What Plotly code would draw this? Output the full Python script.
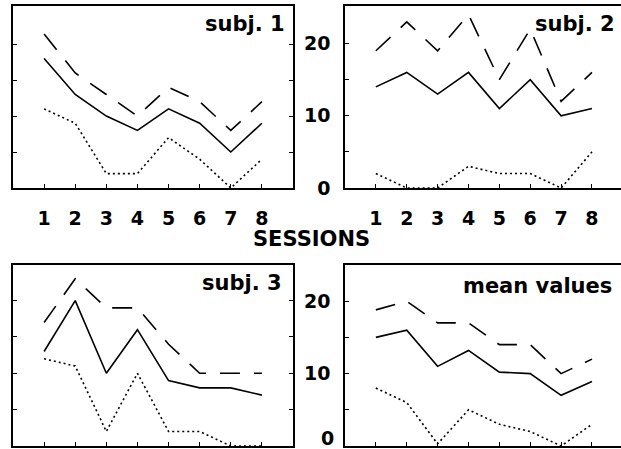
import plotly.graph_objects as go

sessions = [1, 2, 3, 4, 5, 6, 7, 8]

subj1_solid = [18, 13, 10, 8, 11, 9, 5, 9]
subj1_dashed = [21.4, 16, 13, 10, 14, 12, 8, 12]
subj1_dotted = [11, 9, 2, 2, 7, 4, 0, 4]

subj2_solid = [14, 16, 13, 16, 11, 15, 10, 11]
subj2_dashed = [19, 23, 19, 24, 15, 22, 12, 16]
subj2_dotted = [2, 0, 0, 3, 2, 2, 0, 5]

subj3_solid = [13, 20, 10, 16, 9, 8, 8, 7]
subj3_dashed = [17, 23, 19, 19, 14, 10, 10, 10]
subj3_dotted = [12, 11, 2, 10, 2, 2, 0, 0]

mean_solid = [15, 16, 11, 13.2, 10.2, 10, 7, 8.9]
mean_dashed = [18.8, 20, 17, 17, 14, 14, 10, 12]
mean_dotted = [8, 6, 0.3, 5, 3, 2, 0, 3]

panel_titles = ["subj. 1", "subj. 2", "subj. 3", "mean values"]
y_tickvals = [0, 5, 10, 15, 20]
y_ticktext = ["0", "", "10", "", "20"]
x_title = "SESSIONS"

panels = [
    (subj1_solid, subj1_dashed, subj1_dotted, "x", "y"),
    (subj2_solid, subj2_dashed, subj2_dotted, "x2", "y2"),
    (subj3_solid, subj3_dashed, subj3_dotted, "x3", "y3"),
    (mean_solid, mean_dashed, mean_dotted, "x4", "y4"),
]

FONT = "DejaVu Sans"
W, H = 621, 449

fig = go.Figure()
for solid, dashed, dotted, xa, ya in panels:
    fig.add_trace(go.Scatter(x=sessions, y=dashed, mode="lines", xaxis=xa, yaxis=ya,
                             line=dict(color="black", width=1.6, dash="20px,14px"),
                             showlegend=False))
    fig.add_trace(go.Scatter(x=sessions, y=solid, mode="lines", xaxis=xa, yaxis=ya,
                             line=dict(color="black", width=1.6),
                             showlegend=False))
    fig.add_trace(go.Scatter(x=sessions, y=dotted, mode="lines", xaxis=xa, yaxis=ya,
                             line=dict(color="black", width=1.6, dash="2px,3px"),
                             showlegend=False))

def px_x(p):
    return p / W

def px_y(p):
    return 1 - p / H

left_dom = [px_x(13), px_x(293)]
right_dom = [px_x(345), 1.0]
top_dom = [px_y(188), px_y(6)]
bot_dom = [px_y(446), px_y(265)]

tickfont = dict(family=FONT, size=19, color="black", weight="bold")

def xax(domain, anchor, rng, labels):
    return dict(domain=domain, anchor=anchor, range=rng, tickvals=sessions,
                ticks="inside", ticklen=4, tickwidth=1.3, tickcolor="black",
                showline=True, linecolor="black", linewidth=1.6, mirror=True,
                showgrid=False, zeroline=False, showticklabels=labels,
                tickfont=tickfont, ticklabelstandoff=12, automargin=False)

def yax(domain, anchor, rng, labels, mirror):
    return dict(domain=domain, anchor=anchor, range=rng, tickvals=y_tickvals,
                ticktext=y_ticktext, ticks="inside", ticklen=4, tickwidth=1.3,
                tickcolor="black", showline=True, linecolor="black", linewidth=1.6,
                mirror=mirror, showgrid=False, zeroline=False,
                showticklabels=labels, tickfont=tickfont,
                ticklabelstandoff=9, automargin=False)

fig.update_layout(
    width=W, height=H,
    margin=dict(l=0, r=0, t=0, b=0),
    paper_bgcolor="white", plot_bgcolor="white",
    xaxis=xax(left_dom, "y", [0, 9], True),
    yaxis=yax(top_dom, "x", [0, 25.3], False, "ticks"),
    xaxis2=xax(right_dom, "y2", [0, 8.94], True),
    yaxis2=yax(top_dom, "x2", [0, 25.2], True, False),
    xaxis3=xax(left_dom, "y3", [0, 9], False),
    yaxis3=yax(bot_dom, "x3", [0, 24.9], False, "ticks"),
    xaxis4=xax(right_dom, "y4", [0, 8.94], False),
    yaxis4=yax(bot_dom, "x4", [0, 25], True, False),
    yaxis5=dict(overlaying="y2", anchor="x2", side="right", range=[0, 25.2],
                tickvals=y_tickvals, ticks="inside", ticklen=4, tickwidth=1.3,
                tickcolor="black", showline=False, showgrid=False,
                zeroline=False, showticklabels=False),
    yaxis6=dict(overlaying="y4", anchor="x4", side="right", range=[0, 25],
                tickvals=y_tickvals, ticks="inside", ticklen=4, tickwidth=1.3,
                tickcolor="black", showline=False, showgrid=False,
                zeroline=False, showticklabels=False),
)

title_font = dict(family=FONT, size=21, color="black", weight="bold")
title_pos = [(287, 24), (617, 24), (284, 283), (614, 286)]
for text, (px, py) in zip(panel_titles, title_pos):
    fig.add_annotation(text=text, xref="paper", yref="paper", x=px_x(px), y=px_y(py),
                       xanchor="right", yanchor="middle", showarrow=False,
                       font=title_font)

fig.add_annotation(text=x_title, xref="paper", yref="paper", x=px_x(311.5), y=px_y(239),
                   xanchor="center", yanchor="middle", showarrow=False,
                   font=dict(family=FONT, size=21, color="black", weight="bold"))

# the "0" label of the lower-right panel sits at the page's bottom edge
fig.add_annotation(text=y_ticktext[0], xref="x4 domain", yref="paper",
                   x=0, y=0, xanchor="right", yanchor="bottom",
                   xshift=-9, yshift=-2, showarrow=False,
                   font=tickfont)

fig.write_html("out.html")
